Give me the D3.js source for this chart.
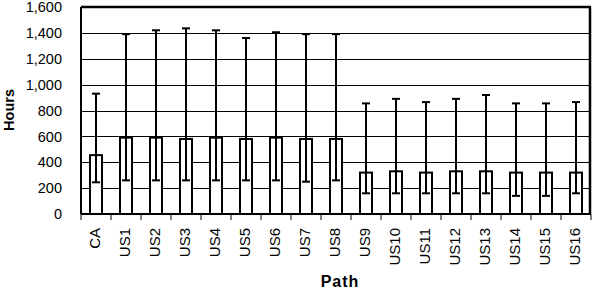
<!DOCTYPE html>
<html><head><meta charset="utf-8">
<script src="https://cdn.jsdelivr.net/npm/d3@7"></script>
<style>body{margin:0;background:#fff}svg{display:block}</style>
</head><body>
<svg id="c" width="592" height="289"></svg>
<script>
const categories = ["CA","US1","US2","US3","US4","US5","US6","US7","US8","US9","US10","US11","US12","US13","US14","US15","US16"];
const meanHours  = [455,590,590,580,590,580,590,580,580,320,330,320,330,330,320,320,320];
const lowHours   = [245,260,260,260,260,260,260,250,260,160,160,160,160,160,140,140,160];
const highHours  = [930,1390,1420,1435,1420,1360,1405,1390,1390,855,890,865,890,920,855,855,865];
const yTicks     = [0,200,400,600,800,1000,1200,1400,1600];

const svg = d3.select("#c");
const L = 81, R = 591, T = 7, B = 214;
const x = d3.scaleBand().domain(categories).range([L, R]).paddingInner(0.6).paddingOuter(0.3);
const y = d3.scaleLinear().domain([0,1600]).range([B, T]);
const fmt = d3.format(",");

// gridlines
svg.append("g").selectAll("line").data(yTicks.slice(1,-1)).join("line")
  .attr("x1", L).attr("x2", R).attr("y1", d => Math.round(y(d))+0.5).attr("y2", d => Math.round(y(d))+0.5)
  .attr("stroke", "#000").attr("stroke-width", 1);

// y labels
svg.append("g").selectAll("text").data(yTicks).join("text")
  .attr("x", 62).attr("y", d => y(d)).attr("dy", "0.36em")
  .attr("text-anchor", "end").attr("font-family", "Liberation Sans, Arial, sans-serif")
  .attr("font-size", 14.5).text(d => fmt(d));

// bars
svg.append("g").selectAll("rect").data(categories).join("rect")
  .attr("x", d => x(d)).attr("width", x.bandwidth())
  .attr("y", (d,i) => y(meanHours[i])).attr("height", (d,i) => B - y(meanHours[i]))
  .attr("fill", "#fff").attr("stroke", "#000").attr("stroke-width", 2);

// error bars
const eb = svg.append("g").attr("stroke", "#000").attr("stroke-width", 2);
categories.forEach((c,i) => {
  const cx = x(c) + x.bandwidth()/2;
  eb.append("line").attr("x1", cx).attr("x2", cx).attr("y1", y(lowHours[i])).attr("y2", y(highHours[i]));
  eb.append("line").attr("x1", cx-4).attr("x2", cx+4).attr("y1", y(lowHours[i])).attr("y2", y(lowHours[i]));
  eb.append("line").attr("x1", cx-4).attr("x2", cx+4).attr("y1", y(highHours[i])).attr("y2", y(highHours[i]));
});

// x ticks at category boundaries
svg.append("g").selectAll("line").data(d3.range(categories.length+1)).join("line")
  .attr("x1", i => L + i*(R-L)/categories.length).attr("x2", i => L + i*(R-L)/categories.length)
  .attr("y1", B).attr("y2", B+6).attr("stroke", "#000").attr("stroke-width", 1);

// frame
svg.append("line").attr("x1", L).attr("x2", R).attr("y1", B).attr("y2", B).attr("stroke","#000").attr("stroke-width",2);
svg.append("line").attr("x1", L).attr("x2", L).attr("y1", T).attr("y2", B).attr("stroke","#000").attr("stroke-width",2);
svg.append("line").attr("x1", L).attr("x2", R).attr("y1", T).attr("y2", T).attr("stroke","#000").attr("stroke-width",2.5);
svg.append("line").attr("x1", R-1).attr("x2", R-1).attr("y1", T).attr("y2", B).attr("stroke","#000").attr("stroke-width",2.5);

// x labels
svg.append("g").selectAll("text").data(categories).join("text")
  .attr("transform", d => `translate(${x(d)+x.bandwidth()/2+4},228) rotate(-90)`)
  .attr("text-anchor", "end").attr("font-family", "Liberation Sans, Arial, sans-serif")
  .attr("font-size", 15).text(d => d);

// axis titles
svg.append("text").attr("transform", "translate(14,110) rotate(-90)").attr("text-anchor","middle")
  .attr("font-family","Liberation Sans, Arial, sans-serif").attr("font-weight","bold").attr("font-size",14.5).text("Hours");
svg.append("text").attr("x", 340).attr("y", 287).attr("text-anchor","middle")
  .attr("font-family","Liberation Sans, Arial, sans-serif").attr("font-weight","bold").attr("font-size",16)
  .attr("letter-spacing", 1).text("Path");
</script>
</body></html>
